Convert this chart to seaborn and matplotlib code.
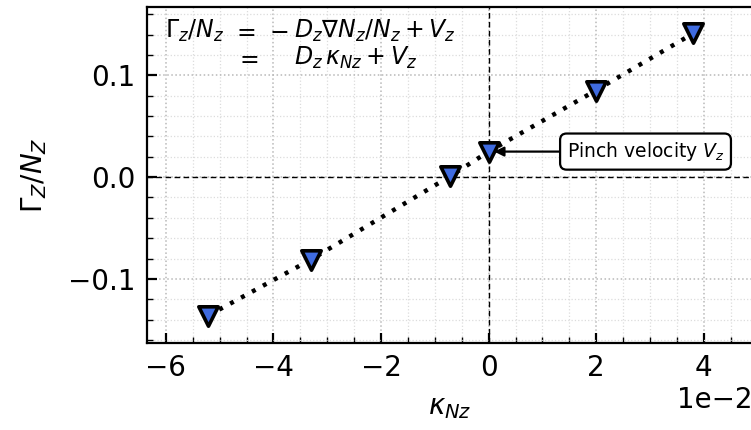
import numpy as np
import pandas as pd
import matplotlib
matplotlib.use("Agg")
import matplotlib.pyplot as plt
from matplotlib.ticker import MultipleLocator
import seaborn as sns

# Normalised gradient kappa_Nz (units of 1e-2) and flux ratio Gamma_z/N_z
kappa_nz = [-5.21, -3.30, -0.71, 0.00, 1.99, 3.80]
gamma_over_n = [-0.136, -0.081, 0.001, 0.025, 0.085, 0.141]
pinch_velocity = 0.025

x_ticks = [-6, -4, -2, 0, 2, 4]
y_ticks = [-0.1, 0.0, 0.1]

sns.set_theme(style="white")
plt.rcParams["font.family"] = ["DejaVu Sans"]
plt.rcParams["mathtext.fontset"] = "dejavusans"
plt.rcParams["text.color"] = "black"
plt.rcParams["axes.labelcolor"] = "black"
plt.rcParams["xtick.color"] = "black"
plt.rcParams["ytick.color"] = "black"

df = pd.DataFrame({"kappa": np.array(kappa_nz) * 1e-2, "gamma": gamma_over_n})

fig = plt.figure(figsize=(7.51, 4.30), dpi=100)
ax = fig.add_axes([0.1957, 0.2023, 0.806, 0.7814])

ax.axhline(0, color="black", lw=1.0, ls=(0, (4, 2.5)), zorder=1)
ax.axvline(0, color="black", lw=1.0, ls=(0, (4, 2.5)), zorder=1)

sns.lineplot(data=df, x="kappa", y="gamma", ax=ax, color="black",
             lw=3.2, ls=(0, (0.9, 1.9)), zorder=3)
sns.scatterplot(data=df, x="kappa", y="gamma", ax=ax, marker="v", s=195,
                color="#3f6be0", edgecolor="black", linewidth=2.6, zorder=4)

ax.set_xlim(-6.35e-2, 4.9e-2)
ax.set_ylim(-0.163, 0.167)
ax.set_xticks(np.array(x_ticks) * 1e-2)
ax.set_yticks(y_ticks)
ax.ticklabel_format(axis="x", style="sci", scilimits=(0, 0), useMathText=False)
ax.xaxis.set_minor_locator(MultipleLocator(0.5e-2))
ax.yaxis.set_minor_locator(MultipleLocator(0.02))

ax.grid(which="major", color="#b8b8b8", ls=":", lw=1.1)
ax.grid(which="minor", color="#dcdcdc", ls=":", lw=0.9)

ax.tick_params(which="both", direction="in", bottom=True, left=True,
               top=False, right=False, labelsize=20, pad=8)
ax.tick_params(which="major", length=7, width=1.6)
ax.tick_params(which="minor", length=4, width=1.0)
ax.xaxis.get_offset_text().set_fontsize(20)
for sp in ax.spines.values():
    sp.set_linewidth(1.6)
    sp.set_color("black")

ax.set_xlabel(r"$\kappa_{Nz}$", fontsize=20, labelpad=8)
ax.set_ylabel(r"$\Gamma_Z/N_Z$", fontsize=20, labelpad=14)

# Two-line flux relation, with the equals signs aligned
eq_kw = dict(transform=ax.transAxes, fontsize=17, va="baseline", ha="left")
line1_y, line2_y = 0.907, 0.827
ax.text(0.03, line1_y, r"$\Gamma_z/N_z$", **eq_kw)
ax.text(0.141, line1_y, r"$=$", **eq_kw)
ax.text(0.202, line1_y, r"$-$", **eq_kw)
ax.text(0.243, line1_y, r"$D_z\nabla N_z/N_z + V_z$", **eq_kw)
ax.text(0.146, line2_y, r"$=$", **eq_kw)
ax.text(0.243, line2_y, r"$D_z\,\kappa_{Nz} + V_z$", **eq_kw)

ax.annotate("Pinch velocity $V_z$", xy=(0.0, pinch_velocity),
            xytext=(1.45e-2, pinch_velocity), fontsize=13.5,
            ha="left", va="center",
            bbox=dict(boxstyle="round,pad=0.35", fc="white", ec="black", lw=1.6),
            arrowprops=dict(arrowstyle="-|>", color="black", lw=1.6,
                            shrinkA=0, shrinkB=4, mutation_scale=14),
            zorder=5)

fig.savefig("out.png", dpi=100)
